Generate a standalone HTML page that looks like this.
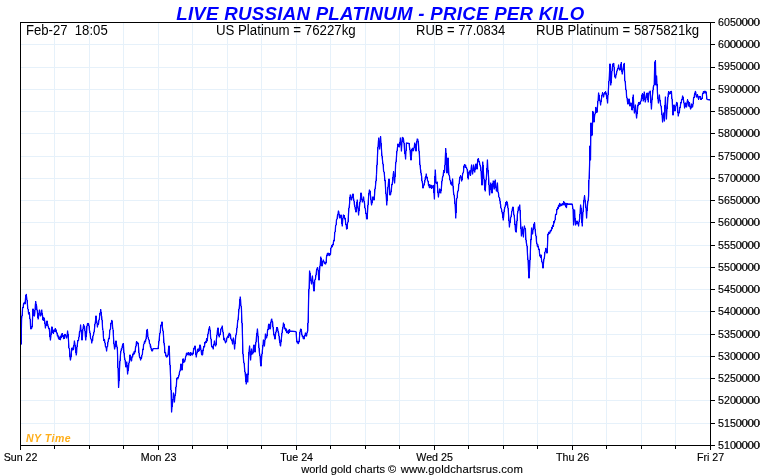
<!DOCTYPE html>
<html><head><meta charset="utf-8"><title>Live Russian Platinum</title>
<style>
html,body{margin:0;padding:0;background:#fff;}
body{width:760px;height:475px;overflow:hidden;font-family:"Liberation Sans",sans-serif;}
svg{display:block;will-change:transform;font-family:"Liberation Sans",sans-serif;}
</style></head><body>
<svg width="760" height="475" viewBox="0 0 760 475">
<rect x="0" y="0" width="760" height="475" fill="#fff"/>
<g stroke="#e6f1fa" stroke-width="1" shape-rendering="crispEdges"><line x1="54.50" y1="22.5" x2="54.50" y2="445.5"/><line x1="89.50" y1="22.5" x2="89.50" y2="445.5"/><line x1="123.50" y1="22.5" x2="123.50" y2="445.5"/><line x1="158.50" y1="22.5" x2="158.50" y2="445.5"/><line x1="192.50" y1="22.5" x2="192.50" y2="445.5"/><line x1="227.50" y1="22.5" x2="227.50" y2="445.5"/><line x1="261.50" y1="22.5" x2="261.50" y2="445.5"/><line x1="296.50" y1="22.5" x2="296.50" y2="445.5"/><line x1="330.50" y1="22.5" x2="330.50" y2="445.5"/><line x1="365.50" y1="22.5" x2="365.50" y2="445.5"/><line x1="399.50" y1="22.5" x2="399.50" y2="445.5"/><line x1="434.50" y1="22.5" x2="434.50" y2="445.5"/><line x1="468.50" y1="22.5" x2="468.50" y2="445.5"/><line x1="503.50" y1="22.5" x2="503.50" y2="445.5"/><line x1="537.50" y1="22.5" x2="537.50" y2="445.5"/><line x1="572.50" y1="22.5" x2="572.50" y2="445.5"/><line x1="606.50" y1="22.5" x2="606.50" y2="445.5"/><line x1="641.50" y1="22.5" x2="641.50" y2="445.5"/><line x1="675.50" y1="22.5" x2="675.50" y2="445.5"/><line x1="20.5" y1="44.50" x2="710.5" y2="44.50"/><line x1="20.5" y1="67.50" x2="710.5" y2="67.50"/><line x1="20.5" y1="89.50" x2="710.5" y2="89.50"/><line x1="20.5" y1="111.50" x2="710.5" y2="111.50"/><line x1="20.5" y1="133.50" x2="710.5" y2="133.50"/><line x1="20.5" y1="156.50" x2="710.5" y2="156.50"/><line x1="20.5" y1="178.50" x2="710.5" y2="178.50"/><line x1="20.5" y1="200.50" x2="710.5" y2="200.50"/><line x1="20.5" y1="222.50" x2="710.5" y2="222.50"/><line x1="20.5" y1="245.50" x2="710.5" y2="245.50"/><line x1="20.5" y1="267.50" x2="710.5" y2="267.50"/><line x1="20.5" y1="289.50" x2="710.5" y2="289.50"/><line x1="20.5" y1="311.50" x2="710.5" y2="311.50"/><line x1="20.5" y1="334.50" x2="710.5" y2="334.50"/><line x1="20.5" y1="356.50" x2="710.5" y2="356.50"/><line x1="20.5" y1="378.50" x2="710.5" y2="378.50"/><line x1="20.5" y1="400.50" x2="710.5" y2="400.50"/><line x1="20.5" y1="423.50" x2="710.5" y2="423.50"/></g>
<polyline fill="none" stroke="#0000ff" stroke-width="1" stroke-linejoin="round" shape-rendering="crispEdges" points="21.0,345.0 21.6,319.0 22.1,315.2 22.6,308.0 23.1,307.7 23.5,304.0 24.0,303.0 24.5,302.5 25.0,304.0 25.6,297.5 26.2,294.4 26.8,298.6 27.4,304.0 27.8,308.4 28.2,309.8 28.6,314.0 29.4,313.0 29.8,317.6 30.2,319.7 30.6,326.7 31.0,329.0 31.4,326.7 31.8,328.0 32.2,326.0 33.0,309.0 33.5,310.7 33.9,315.3 34.4,316.0 34.9,312.3 35.3,305.2 35.8,301.6 36.2,305.6 36.6,305.8 37.0,310.0 37.4,311.7 37.8,317.3 38.2,319.0 38.8,315.2 39.4,310.0 39.8,310.7 40.2,315.3 40.6,316.0 41.2,314.4 41.8,310.0 42.2,314.9 42.6,315.5 43.0,320.0 43.4,320.3 43.8,317.8 44.2,318.0 44.8,321.6 45.4,328.0 45.8,325.6 46.2,325.4 46.6,321.6 47.0,321.0 47.4,324.5 47.8,324.1 48.2,327.0 48.8,327.8 49.4,330.0 49.9,335.7 50.4,340.0 50.9,336.4 51.3,330.2 51.8,327.0 52.2,327.2 52.6,331.6 53.0,333.0 53.5,333.0 53.9,330.0 54.4,330.0 54.8,331.2 55.2,328.7 55.6,331.3 56.0,329.6 56.5,332.9 56.9,332.5 57.4,336.0 57.8,335.0 58.3,337.9 58.7,336.2 59.1,339.4 59.6,337.4 60.0,339.0 60.4,339.7 60.8,336.0 61.2,337.7 61.6,334.0 62.0,334.0 62.4,333.6 62.8,336.4 63.2,335.5 63.6,338.7 64.0,338.0 64.5,338.0 64.9,334.4 65.4,335.0 66.0,335.8 66.6,338.0 67.1,335.7 67.6,331.0 68.1,334.9 68.6,342.0 69.0,347.9 69.5,349.2 70.0,356.9 70.4,360.0 70.9,357.7 71.5,351.3 72.0,348.0 72.5,348.3 73.0,350.0 73.5,346.4 73.9,345.6 74.4,341.0 74.9,343.6 75.3,348.5 75.8,350.4 76.2,355.0 76.6,352.6 77.0,346.7 77.4,344.0 77.9,340.3 78.5,340.5 79.0,337.0 79.5,331.9 80.1,330.6 80.6,325.0 81.1,331.0 81.5,334.0 82.0,340.0 82.4,337.0 82.8,330.7 83.2,327.0 83.6,324.9 84.0,327.4 84.4,326.0 84.9,329.7 85.3,335.9 85.8,340.0 86.2,334.7 86.6,333.2 87.0,326.3 87.4,324.0 88.0,323.4 88.6,324.0 89.0,325.4 89.4,330.2 89.8,331.4 90.2,335.0 90.7,339.0 91.3,339.2 91.8,343.0 92.2,339.4 92.6,340.8 93.0,335.9 93.4,335.0 94.0,332.4 94.6,328.0 95.1,323.3 95.5,321.0 96.0,316.0 96.5,320.8 96.9,321.9 97.4,327.0 97.9,323.9 98.5,324.1 99.0,320.0 99.5,318.1 99.9,313.6 100.3,312.8 100.8,309.6 101.3,315.5 101.7,316.2 102.2,322.0 102.6,328.2 103.0,330.3 103.4,337.0 103.9,340.5 104.5,339.8 105.0,343.0 105.5,347.0 106.1,347.0 106.6,351.0 107.1,346.4 107.5,346.6 108.0,342.0 108.5,339.2 108.9,339.2 109.4,336.0 109.9,329.9 110.5,328.9 111.0,323.0 111.4,323.2 111.8,320.3 112.2,321.0 112.6,327.1 113.0,329.3 113.4,336.0 114.0,344.2 114.6,349.0 115.1,347.0 115.5,343.0 116.0,341.0 116.5,344.8 116.9,346.2 117.4,350.0 118.0,367.6 118.6,387.4 119.1,380.1 119.5,369.2 120.0,361.0 120.5,354.3 121.0,351.0 121.4,348.7 121.8,349.4 122.2,346.0 122.6,347.3 123.0,343.6 123.4,344.0 123.9,351.6 124.4,357.0 124.9,358.9 125.5,364.4 126.0,367.0 126.8,362.0 127.6,374.0 128.1,369.8 128.5,368.0 129.0,363.0 129.5,360.6 130.0,355.0 130.6,356.7 131.2,361.0 131.6,360.6 132.1,356.5 132.6,357.0 133.0,354.0 133.4,353.0 133.8,354.7 134.2,351.3 134.6,353.1 135.0,352.0 135.5,347.6 135.9,347.0 136.4,342.0 136.9,341.8 137.5,343.5 138.0,343.0 138.6,347.5 139.2,355.0 139.7,357.5 140.1,357.3 140.6,360.0 141.1,357.7 141.5,358.1 142.0,355.0 142.4,354.2 142.8,349.0 143.2,349.6 143.6,344.6 144.0,344.0 144.4,341.8 144.8,343.2 145.2,340.4 145.6,341.1 146.0,339.0 146.6,332.9 147.2,329.4 147.6,331.8 148.0,336.9 148.4,339.0 148.9,339.4 149.5,343.3 150.0,344.0 150.4,346.9 150.8,346.1 151.2,349.4 151.6,348.7 152.0,351.0 152.5,350.8 153.1,348.7 153.6,348.6 158.0,348.6 158.6,345.0 159.2,339.0 159.7,334.2 160.1,333.0 160.6,328.0 161.1,324.6 161.5,325.1 162.0,322.0 162.5,328.2 163.1,331.1 163.6,337.0 164.1,344.0 164.5,346.0 165.0,353.0 165.5,352.7 166.1,356.4 166.6,357.0 167.1,355.3 167.5,356.6 168.0,355.0 168.5,349.4 169.0,346.0 169.4,352.1 169.8,361.0 170.6,377.0 171.1,392.8 171.6,412.0 172.1,405.8 172.6,403.0 173.0,398.7 173.4,393.0 173.9,395.7 174.4,402.0 175.0,396.0 175.6,393.0 176.0,387.3 176.4,384.8 176.8,379.0 177.3,377.6 177.9,378.8 178.4,377.0 178.9,376.0 179.5,372.2 180.0,371.0 180.5,368.2 181.0,364.0 181.5,367.6 182.0,370.0 182.5,365.6 183.0,359.0 183.5,359.0 183.9,362.2 184.4,362.0 184.9,361.2 185.5,357.4 186.0,356.0 186.5,353.2 186.9,354.7 187.4,353.0 187.9,354.5 188.5,352.7 189.0,355.0 189.4,353.7 189.8,354.9 190.2,352.7 190.6,355.1 191.0,353.0 191.5,354.7 191.9,353.1 192.4,355.0 193.0,353.9 193.6,350.0 194.1,347.8 194.5,348.9 195.0,346.0 195.6,350.4 196.2,357.0 196.7,353.8 197.1,352.9 197.6,350.0 198.1,348.8 198.5,351.3 199.0,351.0 199.5,347.4 200.0,345.0 200.5,346.4 201.0,350.0 201.6,354.3 202.2,355.0 202.7,354.4 203.1,349.5 203.6,348.0 204.1,346.2 204.5,346.9 204.9,342.5 205.4,343.0 205.8,341.3 206.2,342.2 206.6,338.9 207.0,341.1 207.4,339.0 208.0,334.1 208.6,331.0 209.1,328.1 209.6,327.0 210.1,330.2 210.6,337.0 211.1,339.8 211.5,345.1 212.0,347.0 212.6,346.8 213.2,349.0 213.6,344.6 214.0,344.3 214.4,341.0 215.0,344.9 215.6,346.0 216.0,344.8 216.4,339.1 216.8,337.0 217.4,330.7 218.0,328.0 218.6,333.3 219.2,337.0 219.7,334.3 220.1,334.6 220.6,332.0 221.1,328.4 221.7,328.6 222.2,326.0 222.7,330.7 223.1,332.7 223.6,337.0 224.1,340.0 224.5,338.3 225.0,341.0 225.5,342.8 226.0,342.0 226.5,340.9 226.9,337.9 227.4,337.0 227.8,337.6 228.3,335.1 228.7,337.3 229.1,333.2 229.6,335.7 230.0,334.0 230.5,335.1 230.9,339.0 231.4,339.0 232.0,340.5 232.6,344.0 233.0,340.0 233.4,338.0 234.0,342.4 234.6,349.0 235.1,342.6 235.6,338.0 236.1,334.0 236.5,332.9 237.0,328.0 237.5,323.0 237.9,320.6 238.4,316.0 238.9,310.1 239.4,306.0 240.2,297.0 240.6,300.0 241.0,306.1 241.4,308.0 242.2,328.0 242.6,339.6 243.0,354.0 243.6,360.5 244.2,364.0 244.6,368.7 245.0,372.0 245.6,377.4 246.2,384.0 246.6,380.5 247.0,374.0 247.4,376.3 247.8,382.0 248.6,358.0 249.1,350.4 249.6,346.0 250.1,352.4 250.6,360.0 251.1,353.8 251.6,349.0 252.1,353.2 252.6,354.0 253.1,352.6 253.5,346.8 254.0,345.0 254.5,347.2 255.0,352.0 255.5,345.8 256.0,342.0 256.5,336.6 256.9,334.0 257.4,329.0 257.9,334.1 258.4,342.0 258.8,344.5 259.2,351.1 259.6,354.0 260.1,356.4 260.5,362.8 261.0,366.0 261.6,358.2 262.2,352.0 262.8,347.2 263.4,340.0 263.9,343.6 264.4,346.0 264.9,341.5 265.4,334.0 265.8,334.7 266.2,337.4 266.6,338.0 267.1,335.4 267.6,330.0 268.1,329.3 268.5,325.3 269.0,324.0 269.5,327.1 270.0,329.0 270.5,327.6 270.9,322.1 271.4,319.6 271.8,319.0 272.2,322.1 272.6,322.0 273.1,328.1 273.6,332.0 274.1,335.8 274.5,334.9 275.0,339.0 275.6,334.1 276.2,331.0 276.8,327.8 277.4,328.0 277.8,329.1 278.2,332.6 278.6,332.8 279.0,336.0 279.4,340.3 279.8,340.0 280.2,345.2 280.6,346.0 281.2,339.9 281.8,335.0 282.3,330.3 282.9,328.2 283.4,323.0 283.8,325.2 284.2,324.4 284.6,328.7 285.0,329.0 285.5,328.2 286.0,331.0 286.4,329.1 286.9,332.6 287.4,332.0 287.8,331.1 288.3,333.4 288.7,330.1 289.1,332.4 289.6,329.7 290.0,331.0 296.0,331.6 296.5,337.8 297.0,342.0 297.4,342.9 297.8,341.5 298.2,343.7 298.6,343.0 299.1,341.1 299.6,336.0 300.2,330.8 300.8,329.0 301.4,330.6 302.0,335.0 302.4,336.7 302.8,336.0 303.2,338.4 303.6,336.6 304.0,339.0 304.5,336.0 304.9,336.1 305.4,333.0 305.8,335.6 306.2,334.1 306.6,336.0 307.2,331.9 307.8,331.0 308.2,316.8 308.6,300.0 309.2,284.0 309.6,271.0 310.1,273.6 310.6,278.0 311.1,282.1 311.6,284.0 312.4,276.0 312.8,280.3 313.2,283.0 313.6,288.5 314.0,291.0 314.4,287.2 314.8,280.0 315.4,279.2 316.0,275.0 316.6,270.1 317.2,268.0 317.7,267.8 318.2,271.0 318.6,276.6 319.0,280.0 319.5,271.6 320.0,266.0 320.4,262.7 320.8,257.0 321.4,260.7 322.0,266.0 322.6,264.0 323.2,260.0 323.8,261.9 324.4,262.0 324.8,263.7 325.2,262.5 325.6,264.0 326.1,262.2 326.5,257.0 327.0,255.0 327.4,253.4 327.8,255.1 328.2,253.1 328.6,254.0 329.1,255.6 329.5,253.6 330.0,255.0 330.5,254.1 330.9,248.6 331.4,247.0 331.8,245.3 332.2,246.8 332.6,244.7 333.0,245.0 333.5,241.7 333.9,241.3 334.4,238.0 334.8,232.3 335.2,231.5 335.6,226.0 336.1,224.7 336.5,219.9 337.0,219.0 337.5,215.3 337.9,214.6 338.4,211.0 338.9,212.2 339.3,216.9 339.8,218.0 340.4,217.2 341.0,215.0 341.6,219.8 342.2,226.0 342.8,219.5 343.4,215.0 343.8,216.8 344.2,215.6 344.6,218.8 345.0,218.0 345.4,220.0 345.8,224.6 346.2,224.7 346.6,229.0 347.1,228.4 347.5,223.2 348.0,222.0 348.5,214.0 349.0,208.0 349.6,203.3 350.2,195.0 350.7,195.1 351.1,199.2 351.6,200.0 352.1,196.8 352.5,197.4 353.0,194.0 353.5,198.3 353.9,199.8 354.4,205.0 354.8,205.2 355.2,209.3 355.6,208.6 356.0,212.0 356.6,207.8 357.2,200.0 357.7,206.2 358.1,208.9 358.6,215.0 359.2,208.8 359.8,204.0 360.4,199.7 361.0,193.0 361.5,195.0 361.9,199.8 362.4,202.0 362.8,199.8 363.2,199.6 363.6,197.0 364.1,201.6 364.5,203.4 365.0,208.0 365.4,209.1 365.8,213.2 366.2,213.7 366.6,218.6 367.0,219.0 367.6,211.1 368.2,202.0 368.8,194.8 369.4,190.0 370.0,191.0 370.4,195.1 370.8,197.2 371.2,202.6 371.6,205.0 372.2,201.8 372.8,197.0 373.4,197.1 374.0,200.0 374.5,195.5 375.0,189.0 375.5,185.8 376.0,181.0 376.5,174.5 377.0,165.0 377.5,155.2 378.0,147.0 378.4,141.6 378.8,138.0 379.2,142.7 379.6,149.0 380.1,141.9 380.6,136.6 381.1,144.5 381.6,151.0 382.1,157.3 382.6,161.0 383.1,164.8 383.6,171.0 384.1,172.3 384.6,177.0 385.1,181.3 385.6,189.0 386.2,196.2 386.8,205.0 387.4,194.9 388.0,187.0 388.5,182.2 389.0,179.0 389.5,188.7 390.0,195.0 390.6,194.5 391.2,191.0 391.8,185.3 392.4,183.0 392.8,180.1 393.2,174.3 393.6,172.0 394.1,178.1 394.6,183.0 395.1,175.6 395.6,165.0 396.2,160.1 396.8,153.0 397.4,148.0 398.0,144.0 398.6,146.1 399.2,147.0 399.8,144.2 400.4,138.0 400.9,143.3 401.4,151.0 401.9,143.2 402.4,137.4 402.8,139.8 403.2,138.0 403.6,140.0 404.1,144.1 404.6,151.0 405.1,154.0 405.6,159.0 406.4,143.0 409.0,143.4 409.5,147.5 410.0,150.0 410.5,156.5 411.0,160.0 411.5,155.1 412.0,149.0 412.4,150.1 412.8,148.2 413.2,150.8 413.6,150.0 414.2,147.1 414.8,143.0 415.4,145.4 416.0,151.0 416.6,144.1 417.2,139.0 417.8,139.3 418.4,143.0 418.9,150.0 419.4,155.0 419.9,163.7 420.4,169.0 420.8,170.5 421.2,175.1 421.6,176.0 422.1,181.7 422.5,183.1 423.0,188.0 423.5,185.8 423.9,185.5 424.4,183.0 424.8,182.2 425.3,177.4 425.8,177.8 426.2,174.0 426.7,178.0 427.1,177.1 427.6,181.0 428.1,181.0 428.5,185.1 429.0,186.0 429.4,187.7 429.8,184.7 430.3,187.6 430.7,185.4 431.1,187.4 431.5,185.5 431.9,188.2 432.3,186.1 432.8,187.6 433.2,185.4 433.6,187.0 434.4,199.0 434.8,183.4 435.2,170.0 435.6,175.4 436.0,183.0 436.6,183.2 437.2,182.0 437.8,191.2 438.4,197.0 438.8,193.5 439.2,192.3 439.6,189.0 440.2,189.9 440.8,193.0 441.4,187.8 442.0,181.0 442.5,177.3 442.9,177.0 443.4,173.0 443.9,170.5 444.3,172.6 444.8,170.0 445.3,157.8 445.8,148.6 446.4,161.7 447.0,173.0 447.5,166.5 448.0,158.0 448.5,167.3 449.0,175.0 449.5,176.2 449.9,179.8 450.4,181.0 450.8,184.0 451.2,182.4 451.6,185.0 452.1,182.6 452.6,179.0 453.1,187.8 453.6,193.0 454.2,195.6 454.8,201.0 455.3,208.1 455.8,218.0 456.2,207.8 456.6,199.0 457.1,198.0 457.5,192.8 458.0,191.0 458.4,189.7 458.8,184.4 459.2,182.9 459.6,179.0 460.1,176.9 460.6,176.0 461.1,176.8 461.6,181.0 462.1,179.5 462.5,174.9 463.0,173.0 463.5,171.8 463.9,166.3 464.4,165.0 464.8,164.8 465.2,167.3 465.6,165.2 466.0,167.0 466.6,167.9 467.2,170.0 467.7,175.2 468.2,179.0 468.8,173.2 469.4,171.0 469.8,171.0 470.2,175.0 470.6,175.0 471.1,168.4 471.6,165.0 472.1,170.6 472.6,174.0 473.1,170.3 473.6,165.0 474.2,169.1 474.8,172.0 475.4,166.5 476.0,164.0 476.5,167.1 477.0,169.0 477.5,162.5 478.0,159.0 478.4,158.7 478.8,161.7 479.2,161.3 479.6,163.0 480.2,166.1 480.8,167.0 481.4,177.4 482.0,185.0 482.4,175.2 482.8,162.0 483.4,172.0 484.0,179.0 484.6,186.1 485.2,191.0 485.8,182.4 486.4,177.0 486.9,169.9 487.4,160.0 487.9,169.0 488.4,175.0 488.8,179.9 489.2,189.4 489.6,195.0 490.2,187.9 490.8,183.0 491.4,186.9 492.0,193.0 492.6,188.1 493.2,181.0 493.7,184.3 494.2,189.0 494.7,183.3 495.2,180.0 495.8,186.2 496.4,191.0 496.9,188.5 497.4,183.0 498.0,192.0 498.5,193.3 498.9,196.9 499.4,198.0 499.8,198.8 500.2,203.7 500.6,204.3 501.0,208.0 501.6,209.6 502.2,213.0 502.7,214.7 503.2,220.0 503.7,215.9 504.2,210.0 504.8,208.1 505.4,205.0 505.8,202.9 506.2,205.1 506.6,201.4 507.0,202.0 507.6,204.4 508.2,210.0 508.8,217.2 509.4,227.0 509.8,223.0 510.2,222.2 510.6,218.0 511.2,216.0 511.8,212.0 512.4,208.6 513.0,207.0 513.4,209.4 513.8,214.2 514.2,216.0 514.8,221.6 515.4,230.0 515.8,231.7 516.2,232.0 516.8,224.2 517.4,214.0 517.9,211.9 518.4,207.0 518.9,209.8 519.4,210.0 519.8,205.0 520.2,214.5 520.6,222.0 521.4,236.0 521.9,232.6 522.4,227.0 522.9,232.8 523.4,237.0 523.9,230.2 524.4,226.0 524.9,228.6 525.4,229.0 525.8,237.0 526.2,242.0 527.0,246.0 527.5,254.6 528.0,260.0 528.5,270.0 529.0,278.0 529.8,266.0 530.2,255.3 530.6,246.0 531.1,238.0 531.6,228.0 532.1,232.2 532.6,234.0 533.1,229.4 533.6,226.0 534.1,223.9 534.6,223.0 535.1,230.0 535.6,234.0 536.1,236.7 536.5,241.8 537.0,244.0 537.4,246.4 537.8,244.5 538.2,247.6 538.6,248.0 539.2,250.2 539.8,256.0 540.2,254.9 540.6,257.1 541.0,255.0 541.5,259.4 542.0,262.0 542.5,263.6 543.0,268.0 543.5,262.9 544.0,259.0 544.5,256.8 545.0,252.0 545.4,251.7 545.8,248.3 546.2,249.0 547.0,253.0 547.5,245.2 548.0,234.0 548.5,234.4 548.9,232.2 549.4,233.0 549.8,233.1 550.2,230.6 550.6,231.9 551.0,230.0 551.4,230.2 551.8,227.6 552.2,228.6 552.6,225.5 553.0,226.0 553.4,226.1 553.8,221.8 554.2,223.0 554.6,221.0 555.1,219.4 555.5,215.1 556.0,214.0 556.5,214.1 556.9,209.6 557.4,209.0 557.8,207.4 558.2,208.7 558.6,205.1 559.0,206.0 559.4,206.5 559.8,203.4 560.2,206.1 560.6,204.4 561.1,205.6 561.5,204.2 562.0,205.0 562.5,203.6 562.9,205.1 563.4,203.0 563.8,201.9 564.2,203.8 564.6,202.4 565.1,205.3 565.5,203.7 566.0,207.0 566.5,207.5 566.9,203.5 567.4,204.0 572.0,204.0 572.5,205.8 573.0,209.0 573.6,225.0 574.1,218.6 574.6,210.0 575.1,219.2 575.6,225.0 576.1,222.5 576.5,223.6 577.0,221.0 577.4,221.7 577.8,224.0 578.2,223.8 578.6,226.0 579.2,220.8 579.8,218.0 580.2,210.4 580.6,205.0 581.4,210.0 581.8,219.3 582.2,226.0 583.0,212.0 583.8,202.0 584.2,198.0 584.6,196.0 585.1,200.7 585.6,204.0 586.1,209.3 586.6,218.0 587.1,209.6 587.6,204.0 588.1,200.7 588.6,196.0 589.0,180.0 589.6,165.0 590.0,146.0 590.5,160.0 591.0,123.0 591.5,127.6 592.0,135.5 592.5,124.5 593.0,111.5 593.5,118.5 594.0,122.0 594.5,116.6 595.0,114.0 595.5,112.0 596.0,107.5 596.5,111.3 597.0,112.5 597.8,103.0 598.2,98.9 598.6,93.0 599.1,95.9 599.6,100.0 600.1,101.4 600.6,105.0 601.1,100.8 601.6,98.0 602.1,94.9 602.6,93.0 603.1,94.3 603.6,97.0 604.1,93.8 604.6,93.0 605.1,94.1 605.6,92.0 606.1,93.3 606.6,97.0 607.1,99.1 607.6,103.0 608.1,93.2 608.6,87.0 609.4,75.0 610.0,64.0 610.8,85.0 611.3,80.4 611.8,73.0 612.3,67.5 612.8,64.0 613.3,65.2 613.8,63.4 614.2,69.8 614.6,75.0 615.1,77.3 615.6,78.0 616.1,74.6 616.6,73.0 617.1,70.3 617.6,69.0 618.1,68.4 618.6,65.0 619.1,68.8 619.6,70.0 620.1,69.9 620.6,67.0 621.2,62.6 621.7,69.2 622.2,74.0 622.7,70.9 623.2,69.0 623.7,65.4 624.2,63.4 624.8,80.0 625.3,82.9 625.8,89.0 626.2,90.3 626.6,96.5 627.0,98.0 627.5,101.8 628.0,104.0 628.5,102.5 629.0,99.0 629.5,101.5 630.0,106.0 630.5,105.6 631.0,103.0 631.4,103.7 631.8,108.8 632.2,110.0 632.7,101.2 633.2,95.0 633.8,105.5 634.4,113.0 634.9,110.3 635.4,105.0 635.8,108.1 636.2,114.4 636.6,118.0 637.1,112.9 637.6,109.0 638.1,104.7 638.6,103.0 639.1,102.4 639.5,104.4 640.0,104.0 640.5,101.8 640.9,101.4 641.4,99.0 641.9,95.1 642.4,94.0 642.8,96.9 643.2,101.0 643.7,97.3 644.2,92.0 644.7,95.4 645.2,102.0 645.7,100.2 646.2,97.0 646.7,94.2 647.2,93.0 647.7,96.9 648.2,102.0 648.7,95.4 649.2,92.0 649.7,92.6 650.2,91.0 650.8,99.3 651.4,109.0 651.9,101.6 652.4,96.0 652.8,93.1 653.2,88.0 653.7,85.5 654.2,85.0 654.8,62.0 655.4,61.0 656.0,85.0 656.6,76.0 657.4,92.0 657.9,98.1 658.4,103.0 658.9,100.7 659.4,95.0 659.8,99.9 660.2,100.3 660.6,105.0 661.1,106.5 661.6,111.0 662.1,115.4 662.6,122.0 663.1,116.5 663.6,113.0 664.4,121.0 664.9,107.8 665.4,97.0 665.9,106.6 666.4,119.0 666.9,110.7 667.4,105.0 667.8,100.3 668.2,94.0 668.7,91.8 669.2,92.0 669.7,94.0 670.2,93.0 670.8,91.7 671.4,91.4 671.8,96.9 672.2,101.0 673.0,115.0 673.5,108.2 674.0,105.0 674.5,109.7 675.0,111.0 675.4,110.3 675.8,106.3 676.2,105.0 676.7,102.3 677.2,103.0 677.7,108.3 678.2,116.0 678.7,112.8 679.2,113.0 679.8,108.3 680.4,106.0 680.8,102.7 681.2,103.0 681.6,100.0 682.1,99.7 682.6,96.0 683.1,97.4 683.6,101.0 684.1,103.5 684.6,108.0 685.1,106.4 685.6,103.0 686.1,104.0 686.6,107.0 687.1,101.8 687.6,100.0 688.1,101.8 688.6,106.0 689.1,103.5 689.6,103.0 690.1,107.2 690.6,109.0 691.1,107.9 691.6,104.0 692.1,106.3 692.6,107.0 693.1,103.9 693.6,98.0 694.1,97.3 694.6,94.0 695.4,91.4 695.8,92.3 696.2,96.5 696.6,97.0 697.1,94.8 697.6,95.0 698.1,97.9 698.6,99.0 699.1,96.5 699.6,97.0 700.1,96.7 700.6,99.4 701.2,99.4 701.8,98.0 702.2,98.1 702.6,93.8 703.0,93.0 703.4,91.8 703.8,93.4 704.2,91.6 704.8,91.3 705.4,93.0 705.8,91.3 706.2,92.6 707.0,99.4 710.0,100.0"/>
<polyline fill="none" stroke="#0000ff" stroke-width="1.3" stroke-linejoin="round" stroke-opacity="0.9" points="21.0,345.0 21.6,319.0 22.1,315.2 22.6,308.0 23.1,307.7 23.5,304.0 24.0,303.0 24.5,302.5 25.0,304.0 25.6,297.5 26.2,294.4 26.8,298.6 27.4,304.0 27.8,308.4 28.2,309.8 28.6,314.0 29.4,313.0 29.8,317.6 30.2,319.7 30.6,326.7 31.0,329.0 31.4,326.7 31.8,328.0 32.2,326.0 33.0,309.0 33.5,310.7 33.9,315.3 34.4,316.0 34.9,312.3 35.3,305.2 35.8,301.6 36.2,305.6 36.6,305.8 37.0,310.0 37.4,311.7 37.8,317.3 38.2,319.0 38.8,315.2 39.4,310.0 39.8,310.7 40.2,315.3 40.6,316.0 41.2,314.4 41.8,310.0 42.2,314.9 42.6,315.5 43.0,320.0 43.4,320.3 43.8,317.8 44.2,318.0 44.8,321.6 45.4,328.0 45.8,325.6 46.2,325.4 46.6,321.6 47.0,321.0 47.4,324.5 47.8,324.1 48.2,327.0 48.8,327.8 49.4,330.0 49.9,335.7 50.4,340.0 50.9,336.4 51.3,330.2 51.8,327.0 52.2,327.2 52.6,331.6 53.0,333.0 53.5,333.0 53.9,330.0 54.4,330.0 54.8,331.2 55.2,328.7 55.6,331.3 56.0,329.6 56.5,332.9 56.9,332.5 57.4,336.0 57.8,335.0 58.3,337.9 58.7,336.2 59.1,339.4 59.6,337.4 60.0,339.0 60.4,339.7 60.8,336.0 61.2,337.7 61.6,334.0 62.0,334.0 62.4,333.6 62.8,336.4 63.2,335.5 63.6,338.7 64.0,338.0 64.5,338.0 64.9,334.4 65.4,335.0 66.0,335.8 66.6,338.0 67.1,335.7 67.6,331.0 68.1,334.9 68.6,342.0 69.0,347.9 69.5,349.2 70.0,356.9 70.4,360.0 70.9,357.7 71.5,351.3 72.0,348.0 72.5,348.3 73.0,350.0 73.5,346.4 73.9,345.6 74.4,341.0 74.9,343.6 75.3,348.5 75.8,350.4 76.2,355.0 76.6,352.6 77.0,346.7 77.4,344.0 77.9,340.3 78.5,340.5 79.0,337.0 79.5,331.9 80.1,330.6 80.6,325.0 81.1,331.0 81.5,334.0 82.0,340.0 82.4,337.0 82.8,330.7 83.2,327.0 83.6,324.9 84.0,327.4 84.4,326.0 84.9,329.7 85.3,335.9 85.8,340.0 86.2,334.7 86.6,333.2 87.0,326.3 87.4,324.0 88.0,323.4 88.6,324.0 89.0,325.4 89.4,330.2 89.8,331.4 90.2,335.0 90.7,339.0 91.3,339.2 91.8,343.0 92.2,339.4 92.6,340.8 93.0,335.9 93.4,335.0 94.0,332.4 94.6,328.0 95.1,323.3 95.5,321.0 96.0,316.0 96.5,320.8 96.9,321.9 97.4,327.0 97.9,323.9 98.5,324.1 99.0,320.0 99.5,318.1 99.9,313.6 100.3,312.8 100.8,309.6 101.3,315.5 101.7,316.2 102.2,322.0 102.6,328.2 103.0,330.3 103.4,337.0 103.9,340.5 104.5,339.8 105.0,343.0 105.5,347.0 106.1,347.0 106.6,351.0 107.1,346.4 107.5,346.6 108.0,342.0 108.5,339.2 108.9,339.2 109.4,336.0 109.9,329.9 110.5,328.9 111.0,323.0 111.4,323.2 111.8,320.3 112.2,321.0 112.6,327.1 113.0,329.3 113.4,336.0 114.0,344.2 114.6,349.0 115.1,347.0 115.5,343.0 116.0,341.0 116.5,344.8 116.9,346.2 117.4,350.0 118.0,367.6 118.6,387.4 119.1,380.1 119.5,369.2 120.0,361.0 120.5,354.3 121.0,351.0 121.4,348.7 121.8,349.4 122.2,346.0 122.6,347.3 123.0,343.6 123.4,344.0 123.9,351.6 124.4,357.0 124.9,358.9 125.5,364.4 126.0,367.0 126.8,362.0 127.6,374.0 128.1,369.8 128.5,368.0 129.0,363.0 129.5,360.6 130.0,355.0 130.6,356.7 131.2,361.0 131.6,360.6 132.1,356.5 132.6,357.0 133.0,354.0 133.4,353.0 133.8,354.7 134.2,351.3 134.6,353.1 135.0,352.0 135.5,347.6 135.9,347.0 136.4,342.0 136.9,341.8 137.5,343.5 138.0,343.0 138.6,347.5 139.2,355.0 139.7,357.5 140.1,357.3 140.6,360.0 141.1,357.7 141.5,358.1 142.0,355.0 142.4,354.2 142.8,349.0 143.2,349.6 143.6,344.6 144.0,344.0 144.4,341.8 144.8,343.2 145.2,340.4 145.6,341.1 146.0,339.0 146.6,332.9 147.2,329.4 147.6,331.8 148.0,336.9 148.4,339.0 148.9,339.4 149.5,343.3 150.0,344.0 150.4,346.9 150.8,346.1 151.2,349.4 151.6,348.7 152.0,351.0 152.5,350.8 153.1,348.7 153.6,348.6 158.0,348.6 158.6,345.0 159.2,339.0 159.7,334.2 160.1,333.0 160.6,328.0 161.1,324.6 161.5,325.1 162.0,322.0 162.5,328.2 163.1,331.1 163.6,337.0 164.1,344.0 164.5,346.0 165.0,353.0 165.5,352.7 166.1,356.4 166.6,357.0 167.1,355.3 167.5,356.6 168.0,355.0 168.5,349.4 169.0,346.0 169.4,352.1 169.8,361.0 170.6,377.0 171.1,392.8 171.6,412.0 172.1,405.8 172.6,403.0 173.0,398.7 173.4,393.0 173.9,395.7 174.4,402.0 175.0,396.0 175.6,393.0 176.0,387.3 176.4,384.8 176.8,379.0 177.3,377.6 177.9,378.8 178.4,377.0 178.9,376.0 179.5,372.2 180.0,371.0 180.5,368.2 181.0,364.0 181.5,367.6 182.0,370.0 182.5,365.6 183.0,359.0 183.5,359.0 183.9,362.2 184.4,362.0 184.9,361.2 185.5,357.4 186.0,356.0 186.5,353.2 186.9,354.7 187.4,353.0 187.9,354.5 188.5,352.7 189.0,355.0 189.4,353.7 189.8,354.9 190.2,352.7 190.6,355.1 191.0,353.0 191.5,354.7 191.9,353.1 192.4,355.0 193.0,353.9 193.6,350.0 194.1,347.8 194.5,348.9 195.0,346.0 195.6,350.4 196.2,357.0 196.7,353.8 197.1,352.9 197.6,350.0 198.1,348.8 198.5,351.3 199.0,351.0 199.5,347.4 200.0,345.0 200.5,346.4 201.0,350.0 201.6,354.3 202.2,355.0 202.7,354.4 203.1,349.5 203.6,348.0 204.1,346.2 204.5,346.9 204.9,342.5 205.4,343.0 205.8,341.3 206.2,342.2 206.6,338.9 207.0,341.1 207.4,339.0 208.0,334.1 208.6,331.0 209.1,328.1 209.6,327.0 210.1,330.2 210.6,337.0 211.1,339.8 211.5,345.1 212.0,347.0 212.6,346.8 213.2,349.0 213.6,344.6 214.0,344.3 214.4,341.0 215.0,344.9 215.6,346.0 216.0,344.8 216.4,339.1 216.8,337.0 217.4,330.7 218.0,328.0 218.6,333.3 219.2,337.0 219.7,334.3 220.1,334.6 220.6,332.0 221.1,328.4 221.7,328.6 222.2,326.0 222.7,330.7 223.1,332.7 223.6,337.0 224.1,340.0 224.5,338.3 225.0,341.0 225.5,342.8 226.0,342.0 226.5,340.9 226.9,337.9 227.4,337.0 227.8,337.6 228.3,335.1 228.7,337.3 229.1,333.2 229.6,335.7 230.0,334.0 230.5,335.1 230.9,339.0 231.4,339.0 232.0,340.5 232.6,344.0 233.0,340.0 233.4,338.0 234.0,342.4 234.6,349.0 235.1,342.6 235.6,338.0 236.1,334.0 236.5,332.9 237.0,328.0 237.5,323.0 237.9,320.6 238.4,316.0 238.9,310.1 239.4,306.0 240.2,297.0 240.6,300.0 241.0,306.1 241.4,308.0 242.2,328.0 242.6,339.6 243.0,354.0 243.6,360.5 244.2,364.0 244.6,368.7 245.0,372.0 245.6,377.4 246.2,384.0 246.6,380.5 247.0,374.0 247.4,376.3 247.8,382.0 248.6,358.0 249.1,350.4 249.6,346.0 250.1,352.4 250.6,360.0 251.1,353.8 251.6,349.0 252.1,353.2 252.6,354.0 253.1,352.6 253.5,346.8 254.0,345.0 254.5,347.2 255.0,352.0 255.5,345.8 256.0,342.0 256.5,336.6 256.9,334.0 257.4,329.0 257.9,334.1 258.4,342.0 258.8,344.5 259.2,351.1 259.6,354.0 260.1,356.4 260.5,362.8 261.0,366.0 261.6,358.2 262.2,352.0 262.8,347.2 263.4,340.0 263.9,343.6 264.4,346.0 264.9,341.5 265.4,334.0 265.8,334.7 266.2,337.4 266.6,338.0 267.1,335.4 267.6,330.0 268.1,329.3 268.5,325.3 269.0,324.0 269.5,327.1 270.0,329.0 270.5,327.6 270.9,322.1 271.4,319.6 271.8,319.0 272.2,322.1 272.6,322.0 273.1,328.1 273.6,332.0 274.1,335.8 274.5,334.9 275.0,339.0 275.6,334.1 276.2,331.0 276.8,327.8 277.4,328.0 277.8,329.1 278.2,332.6 278.6,332.8 279.0,336.0 279.4,340.3 279.8,340.0 280.2,345.2 280.6,346.0 281.2,339.9 281.8,335.0 282.3,330.3 282.9,328.2 283.4,323.0 283.8,325.2 284.2,324.4 284.6,328.7 285.0,329.0 285.5,328.2 286.0,331.0 286.4,329.1 286.9,332.6 287.4,332.0 287.8,331.1 288.3,333.4 288.7,330.1 289.1,332.4 289.6,329.7 290.0,331.0 296.0,331.6 296.5,337.8 297.0,342.0 297.4,342.9 297.8,341.5 298.2,343.7 298.6,343.0 299.1,341.1 299.6,336.0 300.2,330.8 300.8,329.0 301.4,330.6 302.0,335.0 302.4,336.7 302.8,336.0 303.2,338.4 303.6,336.6 304.0,339.0 304.5,336.0 304.9,336.1 305.4,333.0 305.8,335.6 306.2,334.1 306.6,336.0 307.2,331.9 307.8,331.0 308.2,316.8 308.6,300.0 309.2,284.0 309.6,271.0 310.1,273.6 310.6,278.0 311.1,282.1 311.6,284.0 312.4,276.0 312.8,280.3 313.2,283.0 313.6,288.5 314.0,291.0 314.4,287.2 314.8,280.0 315.4,279.2 316.0,275.0 316.6,270.1 317.2,268.0 317.7,267.8 318.2,271.0 318.6,276.6 319.0,280.0 319.5,271.6 320.0,266.0 320.4,262.7 320.8,257.0 321.4,260.7 322.0,266.0 322.6,264.0 323.2,260.0 323.8,261.9 324.4,262.0 324.8,263.7 325.2,262.5 325.6,264.0 326.1,262.2 326.5,257.0 327.0,255.0 327.4,253.4 327.8,255.1 328.2,253.1 328.6,254.0 329.1,255.6 329.5,253.6 330.0,255.0 330.5,254.1 330.9,248.6 331.4,247.0 331.8,245.3 332.2,246.8 332.6,244.7 333.0,245.0 333.5,241.7 333.9,241.3 334.4,238.0 334.8,232.3 335.2,231.5 335.6,226.0 336.1,224.7 336.5,219.9 337.0,219.0 337.5,215.3 337.9,214.6 338.4,211.0 338.9,212.2 339.3,216.9 339.8,218.0 340.4,217.2 341.0,215.0 341.6,219.8 342.2,226.0 342.8,219.5 343.4,215.0 343.8,216.8 344.2,215.6 344.6,218.8 345.0,218.0 345.4,220.0 345.8,224.6 346.2,224.7 346.6,229.0 347.1,228.4 347.5,223.2 348.0,222.0 348.5,214.0 349.0,208.0 349.6,203.3 350.2,195.0 350.7,195.1 351.1,199.2 351.6,200.0 352.1,196.8 352.5,197.4 353.0,194.0 353.5,198.3 353.9,199.8 354.4,205.0 354.8,205.2 355.2,209.3 355.6,208.6 356.0,212.0 356.6,207.8 357.2,200.0 357.7,206.2 358.1,208.9 358.6,215.0 359.2,208.8 359.8,204.0 360.4,199.7 361.0,193.0 361.5,195.0 361.9,199.8 362.4,202.0 362.8,199.8 363.2,199.6 363.6,197.0 364.1,201.6 364.5,203.4 365.0,208.0 365.4,209.1 365.8,213.2 366.2,213.7 366.6,218.6 367.0,219.0 367.6,211.1 368.2,202.0 368.8,194.8 369.4,190.0 370.0,191.0 370.4,195.1 370.8,197.2 371.2,202.6 371.6,205.0 372.2,201.8 372.8,197.0 373.4,197.1 374.0,200.0 374.5,195.5 375.0,189.0 375.5,185.8 376.0,181.0 376.5,174.5 377.0,165.0 377.5,155.2 378.0,147.0 378.4,141.6 378.8,138.0 379.2,142.7 379.6,149.0 380.1,141.9 380.6,136.6 381.1,144.5 381.6,151.0 382.1,157.3 382.6,161.0 383.1,164.8 383.6,171.0 384.1,172.3 384.6,177.0 385.1,181.3 385.6,189.0 386.2,196.2 386.8,205.0 387.4,194.9 388.0,187.0 388.5,182.2 389.0,179.0 389.5,188.7 390.0,195.0 390.6,194.5 391.2,191.0 391.8,185.3 392.4,183.0 392.8,180.1 393.2,174.3 393.6,172.0 394.1,178.1 394.6,183.0 395.1,175.6 395.6,165.0 396.2,160.1 396.8,153.0 397.4,148.0 398.0,144.0 398.6,146.1 399.2,147.0 399.8,144.2 400.4,138.0 400.9,143.3 401.4,151.0 401.9,143.2 402.4,137.4 402.8,139.8 403.2,138.0 403.6,140.0 404.1,144.1 404.6,151.0 405.1,154.0 405.6,159.0 406.4,143.0 409.0,143.4 409.5,147.5 410.0,150.0 410.5,156.5 411.0,160.0 411.5,155.1 412.0,149.0 412.4,150.1 412.8,148.2 413.2,150.8 413.6,150.0 414.2,147.1 414.8,143.0 415.4,145.4 416.0,151.0 416.6,144.1 417.2,139.0 417.8,139.3 418.4,143.0 418.9,150.0 419.4,155.0 419.9,163.7 420.4,169.0 420.8,170.5 421.2,175.1 421.6,176.0 422.1,181.7 422.5,183.1 423.0,188.0 423.5,185.8 423.9,185.5 424.4,183.0 424.8,182.2 425.3,177.4 425.8,177.8 426.2,174.0 426.7,178.0 427.1,177.1 427.6,181.0 428.1,181.0 428.5,185.1 429.0,186.0 429.4,187.7 429.8,184.7 430.3,187.6 430.7,185.4 431.1,187.4 431.5,185.5 431.9,188.2 432.3,186.1 432.8,187.6 433.2,185.4 433.6,187.0 434.4,199.0 434.8,183.4 435.2,170.0 435.6,175.4 436.0,183.0 436.6,183.2 437.2,182.0 437.8,191.2 438.4,197.0 438.8,193.5 439.2,192.3 439.6,189.0 440.2,189.9 440.8,193.0 441.4,187.8 442.0,181.0 442.5,177.3 442.9,177.0 443.4,173.0 443.9,170.5 444.3,172.6 444.8,170.0 445.3,157.8 445.8,148.6 446.4,161.7 447.0,173.0 447.5,166.5 448.0,158.0 448.5,167.3 449.0,175.0 449.5,176.2 449.9,179.8 450.4,181.0 450.8,184.0 451.2,182.4 451.6,185.0 452.1,182.6 452.6,179.0 453.1,187.8 453.6,193.0 454.2,195.6 454.8,201.0 455.3,208.1 455.8,218.0 456.2,207.8 456.6,199.0 457.1,198.0 457.5,192.8 458.0,191.0 458.4,189.7 458.8,184.4 459.2,182.9 459.6,179.0 460.1,176.9 460.6,176.0 461.1,176.8 461.6,181.0 462.1,179.5 462.5,174.9 463.0,173.0 463.5,171.8 463.9,166.3 464.4,165.0 464.8,164.8 465.2,167.3 465.6,165.2 466.0,167.0 466.6,167.9 467.2,170.0 467.7,175.2 468.2,179.0 468.8,173.2 469.4,171.0 469.8,171.0 470.2,175.0 470.6,175.0 471.1,168.4 471.6,165.0 472.1,170.6 472.6,174.0 473.1,170.3 473.6,165.0 474.2,169.1 474.8,172.0 475.4,166.5 476.0,164.0 476.5,167.1 477.0,169.0 477.5,162.5 478.0,159.0 478.4,158.7 478.8,161.7 479.2,161.3 479.6,163.0 480.2,166.1 480.8,167.0 481.4,177.4 482.0,185.0 482.4,175.2 482.8,162.0 483.4,172.0 484.0,179.0 484.6,186.1 485.2,191.0 485.8,182.4 486.4,177.0 486.9,169.9 487.4,160.0 487.9,169.0 488.4,175.0 488.8,179.9 489.2,189.4 489.6,195.0 490.2,187.9 490.8,183.0 491.4,186.9 492.0,193.0 492.6,188.1 493.2,181.0 493.7,184.3 494.2,189.0 494.7,183.3 495.2,180.0 495.8,186.2 496.4,191.0 496.9,188.5 497.4,183.0 498.0,192.0 498.5,193.3 498.9,196.9 499.4,198.0 499.8,198.8 500.2,203.7 500.6,204.3 501.0,208.0 501.6,209.6 502.2,213.0 502.7,214.7 503.2,220.0 503.7,215.9 504.2,210.0 504.8,208.1 505.4,205.0 505.8,202.9 506.2,205.1 506.6,201.4 507.0,202.0 507.6,204.4 508.2,210.0 508.8,217.2 509.4,227.0 509.8,223.0 510.2,222.2 510.6,218.0 511.2,216.0 511.8,212.0 512.4,208.6 513.0,207.0 513.4,209.4 513.8,214.2 514.2,216.0 514.8,221.6 515.4,230.0 515.8,231.7 516.2,232.0 516.8,224.2 517.4,214.0 517.9,211.9 518.4,207.0 518.9,209.8 519.4,210.0 519.8,205.0 520.2,214.5 520.6,222.0 521.4,236.0 521.9,232.6 522.4,227.0 522.9,232.8 523.4,237.0 523.9,230.2 524.4,226.0 524.9,228.6 525.4,229.0 525.8,237.0 526.2,242.0 527.0,246.0 527.5,254.6 528.0,260.0 528.5,270.0 529.0,278.0 529.8,266.0 530.2,255.3 530.6,246.0 531.1,238.0 531.6,228.0 532.1,232.2 532.6,234.0 533.1,229.4 533.6,226.0 534.1,223.9 534.6,223.0 535.1,230.0 535.6,234.0 536.1,236.7 536.5,241.8 537.0,244.0 537.4,246.4 537.8,244.5 538.2,247.6 538.6,248.0 539.2,250.2 539.8,256.0 540.2,254.9 540.6,257.1 541.0,255.0 541.5,259.4 542.0,262.0 542.5,263.6 543.0,268.0 543.5,262.9 544.0,259.0 544.5,256.8 545.0,252.0 545.4,251.7 545.8,248.3 546.2,249.0 547.0,253.0 547.5,245.2 548.0,234.0 548.5,234.4 548.9,232.2 549.4,233.0 549.8,233.1 550.2,230.6 550.6,231.9 551.0,230.0 551.4,230.2 551.8,227.6 552.2,228.6 552.6,225.5 553.0,226.0 553.4,226.1 553.8,221.8 554.2,223.0 554.6,221.0 555.1,219.4 555.5,215.1 556.0,214.0 556.5,214.1 556.9,209.6 557.4,209.0 557.8,207.4 558.2,208.7 558.6,205.1 559.0,206.0 559.4,206.5 559.8,203.4 560.2,206.1 560.6,204.4 561.1,205.6 561.5,204.2 562.0,205.0 562.5,203.6 562.9,205.1 563.4,203.0 563.8,201.9 564.2,203.8 564.6,202.4 565.1,205.3 565.5,203.7 566.0,207.0 566.5,207.5 566.9,203.5 567.4,204.0 572.0,204.0 572.5,205.8 573.0,209.0 573.6,225.0 574.1,218.6 574.6,210.0 575.1,219.2 575.6,225.0 576.1,222.5 576.5,223.6 577.0,221.0 577.4,221.7 577.8,224.0 578.2,223.8 578.6,226.0 579.2,220.8 579.8,218.0 580.2,210.4 580.6,205.0 581.4,210.0 581.8,219.3 582.2,226.0 583.0,212.0 583.8,202.0 584.2,198.0 584.6,196.0 585.1,200.7 585.6,204.0 586.1,209.3 586.6,218.0 587.1,209.6 587.6,204.0 588.1,200.7 588.6,196.0 589.0,180.0 589.6,165.0 590.0,146.0 590.5,160.0 591.0,123.0 591.5,127.6 592.0,135.5 592.5,124.5 593.0,111.5 593.5,118.5 594.0,122.0 594.5,116.6 595.0,114.0 595.5,112.0 596.0,107.5 596.5,111.3 597.0,112.5 597.8,103.0 598.2,98.9 598.6,93.0 599.1,95.9 599.6,100.0 600.1,101.4 600.6,105.0 601.1,100.8 601.6,98.0 602.1,94.9 602.6,93.0 603.1,94.3 603.6,97.0 604.1,93.8 604.6,93.0 605.1,94.1 605.6,92.0 606.1,93.3 606.6,97.0 607.1,99.1 607.6,103.0 608.1,93.2 608.6,87.0 609.4,75.0 610.0,64.0 610.8,85.0 611.3,80.4 611.8,73.0 612.3,67.5 612.8,64.0 613.3,65.2 613.8,63.4 614.2,69.8 614.6,75.0 615.1,77.3 615.6,78.0 616.1,74.6 616.6,73.0 617.1,70.3 617.6,69.0 618.1,68.4 618.6,65.0 619.1,68.8 619.6,70.0 620.1,69.9 620.6,67.0 621.2,62.6 621.7,69.2 622.2,74.0 622.7,70.9 623.2,69.0 623.7,65.4 624.2,63.4 624.8,80.0 625.3,82.9 625.8,89.0 626.2,90.3 626.6,96.5 627.0,98.0 627.5,101.8 628.0,104.0 628.5,102.5 629.0,99.0 629.5,101.5 630.0,106.0 630.5,105.6 631.0,103.0 631.4,103.7 631.8,108.8 632.2,110.0 632.7,101.2 633.2,95.0 633.8,105.5 634.4,113.0 634.9,110.3 635.4,105.0 635.8,108.1 636.2,114.4 636.6,118.0 637.1,112.9 637.6,109.0 638.1,104.7 638.6,103.0 639.1,102.4 639.5,104.4 640.0,104.0 640.5,101.8 640.9,101.4 641.4,99.0 641.9,95.1 642.4,94.0 642.8,96.9 643.2,101.0 643.7,97.3 644.2,92.0 644.7,95.4 645.2,102.0 645.7,100.2 646.2,97.0 646.7,94.2 647.2,93.0 647.7,96.9 648.2,102.0 648.7,95.4 649.2,92.0 649.7,92.6 650.2,91.0 650.8,99.3 651.4,109.0 651.9,101.6 652.4,96.0 652.8,93.1 653.2,88.0 653.7,85.5 654.2,85.0 654.8,62.0 655.4,61.0 656.0,85.0 656.6,76.0 657.4,92.0 657.9,98.1 658.4,103.0 658.9,100.7 659.4,95.0 659.8,99.9 660.2,100.3 660.6,105.0 661.1,106.5 661.6,111.0 662.1,115.4 662.6,122.0 663.1,116.5 663.6,113.0 664.4,121.0 664.9,107.8 665.4,97.0 665.9,106.6 666.4,119.0 666.9,110.7 667.4,105.0 667.8,100.3 668.2,94.0 668.7,91.8 669.2,92.0 669.7,94.0 670.2,93.0 670.8,91.7 671.4,91.4 671.8,96.9 672.2,101.0 673.0,115.0 673.5,108.2 674.0,105.0 674.5,109.7 675.0,111.0 675.4,110.3 675.8,106.3 676.2,105.0 676.7,102.3 677.2,103.0 677.7,108.3 678.2,116.0 678.7,112.8 679.2,113.0 679.8,108.3 680.4,106.0 680.8,102.7 681.2,103.0 681.6,100.0 682.1,99.7 682.6,96.0 683.1,97.4 683.6,101.0 684.1,103.5 684.6,108.0 685.1,106.4 685.6,103.0 686.1,104.0 686.6,107.0 687.1,101.8 687.6,100.0 688.1,101.8 688.6,106.0 689.1,103.5 689.6,103.0 690.1,107.2 690.6,109.0 691.1,107.9 691.6,104.0 692.1,106.3 692.6,107.0 693.1,103.9 693.6,98.0 694.1,97.3 694.6,94.0 695.4,91.4 695.8,92.3 696.2,96.5 696.6,97.0 697.1,94.8 697.6,95.0 698.1,97.9 698.6,99.0 699.1,96.5 699.6,97.0 700.1,96.7 700.6,99.4 701.2,99.4 701.8,98.0 702.2,98.1 702.6,93.8 703.0,93.0 703.4,91.8 703.8,93.4 704.2,91.6 704.8,91.3 705.4,93.0 705.8,91.3 706.2,92.6 707.0,99.4 710.0,100.0"/>
<rect x="20.5" y="22.5" width="690.0" height="423.0" fill="none" stroke="#000" stroke-width="1" shape-rendering="crispEdges"/>
<g stroke="#000" stroke-width="1" shape-rendering="crispEdges"><line x1="711" y1="22.5" x2="715" y2="22.5"/><line x1="711" y1="44.5" x2="715" y2="44.5"/><line x1="711" y1="67.5" x2="715" y2="67.5"/><line x1="711" y1="89.5" x2="715" y2="89.5"/><line x1="711" y1="111.5" x2="715" y2="111.5"/><line x1="711" y1="133.5" x2="715" y2="133.5"/><line x1="711" y1="156.5" x2="715" y2="156.5"/><line x1="711" y1="178.5" x2="715" y2="178.5"/><line x1="711" y1="200.5" x2="715" y2="200.5"/><line x1="711" y1="222.5" x2="715" y2="222.5"/><line x1="711" y1="245.5" x2="715" y2="245.5"/><line x1="711" y1="267.5" x2="715" y2="267.5"/><line x1="711" y1="289.5" x2="715" y2="289.5"/><line x1="711" y1="311.5" x2="715" y2="311.5"/><line x1="711" y1="334.5" x2="715" y2="334.5"/><line x1="711" y1="356.5" x2="715" y2="356.5"/><line x1="711" y1="378.5" x2="715" y2="378.5"/><line x1="711" y1="400.5" x2="715" y2="400.5"/><line x1="711" y1="423.5" x2="715" y2="423.5"/><line x1="711" y1="445.5" x2="715" y2="445.5"/><line x1="20.5" y1="446" x2="20.5" y2="450"/><line x1="54.5" y1="446" x2="54.5" y2="449"/><line x1="89.5" y1="446" x2="89.5" y2="449"/><line x1="123.5" y1="446" x2="123.5" y2="449"/><line x1="158.5" y1="446" x2="158.5" y2="450"/><line x1="192.5" y1="446" x2="192.5" y2="449"/><line x1="227.5" y1="446" x2="227.5" y2="449"/><line x1="261.5" y1="446" x2="261.5" y2="449"/><line x1="296.5" y1="446" x2="296.5" y2="450"/><line x1="330.5" y1="446" x2="330.5" y2="449"/><line x1="365.5" y1="446" x2="365.5" y2="449"/><line x1="399.5" y1="446" x2="399.5" y2="449"/><line x1="434.5" y1="446" x2="434.5" y2="450"/><line x1="468.5" y1="446" x2="468.5" y2="449"/><line x1="503.5" y1="446" x2="503.5" y2="449"/><line x1="537.5" y1="446" x2="537.5" y2="449"/><line x1="572.5" y1="446" x2="572.5" y2="450"/><line x1="606.5" y1="446" x2="606.5" y2="449"/><line x1="641.5" y1="446" x2="641.5" y2="449"/><line x1="675.5" y1="446" x2="675.5" y2="449"/><line x1="710.5" y1="446" x2="710.5" y2="450"/></g>
<g fill="#707070" stroke="none"><rect x="740.73" y="19.9" width="2.2" height="4.4"/><rect x="746.66" y="19.9" width="2.2" height="4.4"/><rect x="752.60" y="19.9" width="2.2" height="4.4"/><rect x="758.53" y="19.9" width="2.2" height="4.4"/><rect x="728.87" y="42.2" width="2.2" height="4.4"/><rect x="734.80" y="42.2" width="2.2" height="4.4"/><rect x="740.73" y="42.2" width="2.2" height="4.4"/><rect x="746.66" y="42.2" width="2.2" height="4.4"/><rect x="752.60" y="42.2" width="2.2" height="4.4"/><rect x="758.53" y="42.2" width="2.2" height="4.4"/><rect x="740.73" y="64.4" width="2.2" height="4.4"/><rect x="746.66" y="64.4" width="2.2" height="4.4"/><rect x="752.60" y="64.4" width="2.2" height="4.4"/><rect x="758.53" y="64.4" width="2.2" height="4.4"/><rect x="734.80" y="86.7" width="2.2" height="4.4"/><rect x="740.73" y="86.7" width="2.2" height="4.4"/><rect x="746.66" y="86.7" width="2.2" height="4.4"/><rect x="752.60" y="86.7" width="2.2" height="4.4"/><rect x="758.53" y="86.7" width="2.2" height="4.4"/><rect x="740.73" y="109.0" width="2.2" height="4.4"/><rect x="746.66" y="109.0" width="2.2" height="4.4"/><rect x="752.60" y="109.0" width="2.2" height="4.4"/><rect x="758.53" y="109.0" width="2.2" height="4.4"/><rect x="734.80" y="131.2" width="2.2" height="4.4"/><rect x="740.73" y="131.2" width="2.2" height="4.4"/><rect x="746.66" y="131.2" width="2.2" height="4.4"/><rect x="752.60" y="131.2" width="2.2" height="4.4"/><rect x="758.53" y="131.2" width="2.2" height="4.4"/><rect x="740.73" y="153.5" width="2.2" height="4.4"/><rect x="746.66" y="153.5" width="2.2" height="4.4"/><rect x="752.60" y="153.5" width="2.2" height="4.4"/><rect x="758.53" y="153.5" width="2.2" height="4.4"/><rect x="734.80" y="175.7" width="2.2" height="4.4"/><rect x="740.73" y="175.7" width="2.2" height="4.4"/><rect x="746.66" y="175.7" width="2.2" height="4.4"/><rect x="752.60" y="175.7" width="2.2" height="4.4"/><rect x="758.53" y="175.7" width="2.2" height="4.4"/><rect x="740.73" y="198.0" width="2.2" height="4.4"/><rect x="746.66" y="198.0" width="2.2" height="4.4"/><rect x="752.60" y="198.0" width="2.2" height="4.4"/><rect x="758.53" y="198.0" width="2.2" height="4.4"/><rect x="734.80" y="220.3" width="2.2" height="4.4"/><rect x="740.73" y="220.3" width="2.2" height="4.4"/><rect x="746.66" y="220.3" width="2.2" height="4.4"/><rect x="752.60" y="220.3" width="2.2" height="4.4"/><rect x="758.53" y="220.3" width="2.2" height="4.4"/><rect x="740.73" y="242.5" width="2.2" height="4.4"/><rect x="746.66" y="242.5" width="2.2" height="4.4"/><rect x="752.60" y="242.5" width="2.2" height="4.4"/><rect x="758.53" y="242.5" width="2.2" height="4.4"/><rect x="734.80" y="264.8" width="2.2" height="4.4"/><rect x="740.73" y="264.8" width="2.2" height="4.4"/><rect x="746.66" y="264.8" width="2.2" height="4.4"/><rect x="752.60" y="264.8" width="2.2" height="4.4"/><rect x="758.53" y="264.8" width="2.2" height="4.4"/><rect x="740.73" y="287.1" width="2.2" height="4.4"/><rect x="746.66" y="287.1" width="2.2" height="4.4"/><rect x="752.60" y="287.1" width="2.2" height="4.4"/><rect x="758.53" y="287.1" width="2.2" height="4.4"/><rect x="734.80" y="309.3" width="2.2" height="4.4"/><rect x="740.73" y="309.3" width="2.2" height="4.4"/><rect x="746.66" y="309.3" width="2.2" height="4.4"/><rect x="752.60" y="309.3" width="2.2" height="4.4"/><rect x="758.53" y="309.3" width="2.2" height="4.4"/><rect x="740.73" y="331.6" width="2.2" height="4.4"/><rect x="746.66" y="331.6" width="2.2" height="4.4"/><rect x="752.60" y="331.6" width="2.2" height="4.4"/><rect x="758.53" y="331.6" width="2.2" height="4.4"/><rect x="734.80" y="353.8" width="2.2" height="4.4"/><rect x="740.73" y="353.8" width="2.2" height="4.4"/><rect x="746.66" y="353.8" width="2.2" height="4.4"/><rect x="752.60" y="353.8" width="2.2" height="4.4"/><rect x="758.53" y="353.8" width="2.2" height="4.4"/><rect x="740.73" y="376.1" width="2.2" height="4.4"/><rect x="746.66" y="376.1" width="2.2" height="4.4"/><rect x="752.60" y="376.1" width="2.2" height="4.4"/><rect x="758.53" y="376.1" width="2.2" height="4.4"/><rect x="734.80" y="398.4" width="2.2" height="4.4"/><rect x="740.73" y="398.4" width="2.2" height="4.4"/><rect x="746.66" y="398.4" width="2.2" height="4.4"/><rect x="752.60" y="398.4" width="2.2" height="4.4"/><rect x="758.53" y="398.4" width="2.2" height="4.4"/><rect x="740.73" y="420.6" width="2.2" height="4.4"/><rect x="746.66" y="420.6" width="2.2" height="4.4"/><rect x="752.60" y="420.6" width="2.2" height="4.4"/><rect x="758.53" y="420.6" width="2.2" height="4.4"/><rect x="734.80" y="442.9" width="2.2" height="4.4"/><rect x="740.73" y="442.9" width="2.2" height="4.4"/><rect x="746.66" y="442.9" width="2.2" height="4.4"/><rect x="752.60" y="442.9" width="2.2" height="4.4"/><rect x="758.53" y="442.9" width="2.2" height="4.4"/></g>
<g font-size="10.67" fill="#000" stroke="#000" stroke-width="0.15"><text x="718.1" y="25.9">6050000</text><text x="718.1" y="48.2">6000000</text><text x="718.1" y="70.4">5950000</text><text x="718.1" y="92.7">5900000</text><text x="718.1" y="115.0">5850000</text><text x="718.1" y="137.2">5800000</text><text x="718.1" y="159.5">5750000</text><text x="718.1" y="181.7">5700000</text><text x="718.1" y="204.0">5650000</text><text x="718.1" y="226.3">5600000</text><text x="718.1" y="248.5">5550000</text><text x="718.1" y="270.8">5500000</text><text x="718.1" y="293.1">5450000</text><text x="718.1" y="315.3">5400000</text><text x="718.1" y="337.6">5350000</text><text x="718.1" y="359.8">5300000</text><text x="718.1" y="382.1">5250000</text><text x="718.1" y="404.4">5200000</text><text x="718.1" y="426.6">5150000</text><text x="718.1" y="448.9">5100000</text></g>
<g font-size="10.67" fill="#000" stroke="#000" stroke-width="0.15"><text x="20.6" y="460.5" text-anchor="middle">Sun 22</text><text x="158.6" y="460.5" text-anchor="middle">Mon 23</text><text x="296.6" y="460.5" text-anchor="middle">Tue 24</text><text x="434.6" y="460.5" text-anchor="middle">Wed 25</text><text x="572.6" y="460.5" text-anchor="middle">Thu 26</text><text x="710.6" y="460.5" text-anchor="middle">Fri 27</text></g>
<text x="176.2" y="20" textLength="408" lengthAdjust="spacing" font-size="18.67" font-weight="bold" font-style="italic" fill="#0000ff">LIVE RUSSIAN PLATINUM - PRICE PER KILO</text>
<g font-size="14" fill="#000"><text x="25.9" y="34.7" textLength="81.8" lengthAdjust="spacingAndGlyphs" xml:space="preserve">Feb-27  18:05</text><text x="215.9" y="34.7" textLength="139.8" lengthAdjust="spacingAndGlyphs">US Platinum = 76227kg</text><text x="416" y="34.7" textLength="89.2" lengthAdjust="spacingAndGlyphs">RUB = 77.0834</text><text x="536" y="34.7" textLength="163.2" lengthAdjust="spacingAndGlyphs">RUB Platinum = 5875821kg</text></g>
<text x="25.9" y="442" fill-opacity="0.9" font-size="10.5" textLength="44.8" lengthAdjust="spacing" font-weight="bold" font-style="italic" fill="#ffa500">NY Time</text>
<g font-size="11.3" fill="#000" stroke="#000" stroke-width="0.12"><text x="301.2" y="472.6" textLength="95" lengthAdjust="spacingAndGlyphs">world gold charts ©</text><text x="400.7" y="472.6" textLength="122.2" lengthAdjust="spacing">www.goldchartsrus.com</text></g>
</svg>
</body></html>
